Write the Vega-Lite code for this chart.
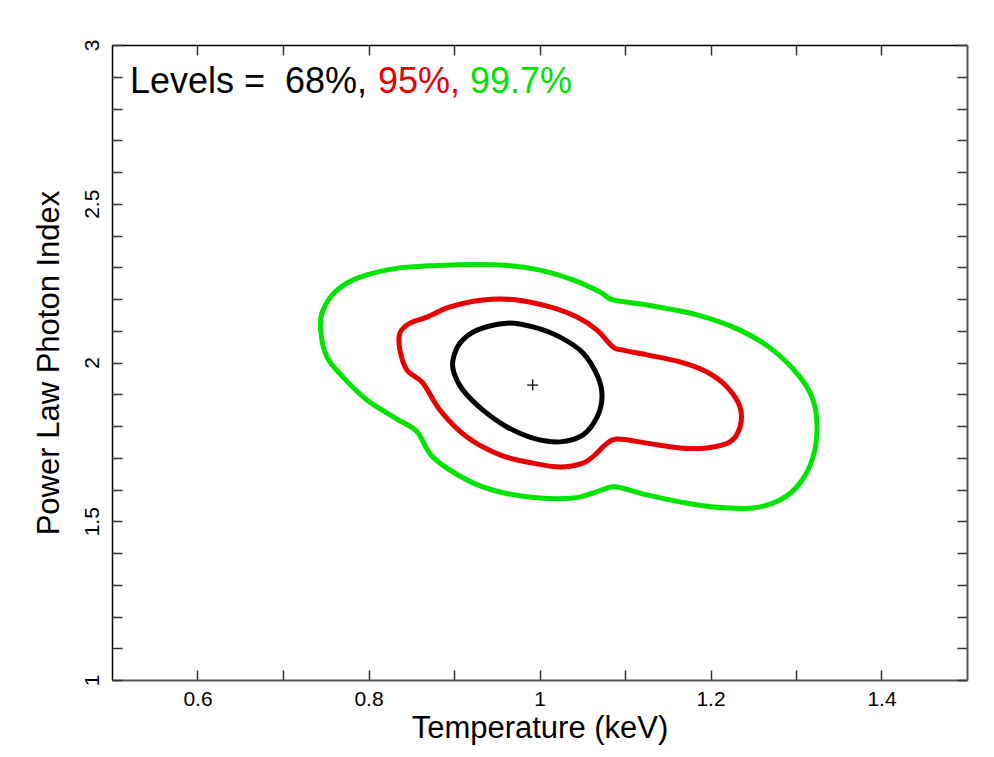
{
  "$schema": "https://vega.github.io/schema/vega-lite/v6.json",
  "width": 855,
  "height": 635,
  "autosize": {"type": "none"},
  "padding": {"left": 112, "top": 45, "right": 27, "bottom": 77},
  "background": "white",
  "config": {
    "view": {"stroke": null},
    "font": "Liberation Sans",
    "axis": {"labelFont": "Liberation Sans", "labelFontSize": 21, "titleFont": "Liberation Sans", "titleFontWeight": "normal", "grid": false}
  },
  "datasets": {
    "contours": [
      {"level": "99.7%", "i": 0, "x": 0.744, "y": 2.102},
      {"level": "99.7%", "i": 1, "x": 0.7468, "y": 2.165},
      {"level": "99.7%", "i": 2, "x": 0.7632, "y": 2.228},
      {"level": "99.7%", "i": 3, "x": 0.7901, "y": 2.269},
      {"level": "99.7%", "i": 4, "x": 0.8368, "y": 2.298},
      {"level": "99.7%", "i": 5, "x": 0.8953, "y": 2.307},
      {"level": "99.7%", "i": 6, "x": 0.9538, "y": 2.307},
      {"level": "99.7%", "i": 7, "x": 1.0006, "y": 2.291},
      {"level": "99.7%", "i": 8, "x": 1.0392, "y": 2.26},
      {"level": "99.7%", "i": 9, "x": 1.0708, "y": 2.222},
      {"level": "99.7%", "i": 10, "x": 1.086, "y": 2.197},
      {"level": "99.7%", "i": 11, "x": 1.1257, "y": 2.181},
      {"level": "99.7%", "i": 12, "x": 1.1842, "y": 2.15},
      {"level": "99.7%", "i": 13, "x": 1.2345, "y": 2.102},
      {"level": "99.7%", "i": 14, "x": 1.2731, "y": 2.039},
      {"level": "99.7%", "i": 15, "x": 1.3047, "y": 1.954},
      {"level": "99.7%", "i": 16, "x": 1.3199, "y": 1.882},
      {"level": "99.7%", "i": 17, "x": 1.3246, "y": 1.797},
      {"level": "99.7%", "i": 18, "x": 1.3199, "y": 1.702},
      {"level": "99.7%", "i": 19, "x": 1.3047, "y": 1.62},
      {"level": "99.7%", "i": 20, "x": 1.2813, "y": 1.567},
      {"level": "99.7%", "i": 21, "x": 1.2497, "y": 1.542},
      {"level": "99.7%", "i": 22, "x": 1.2029, "y": 1.545},
      {"level": "99.7%", "i": 23, "x": 1.1643, "y": 1.561},
      {"level": "99.7%", "i": 24, "x": 1.1257, "y": 1.583},
      {"level": "99.7%", "i": 25, "x": 1.0906, "y": 1.608},
      {"level": "99.7%", "i": 26, "x": 1.0766, "y": 1.602},
      {"level": "99.7%", "i": 27, "x": 1.0626, "y": 1.589},
      {"level": "99.7%", "i": 28, "x": 1.0392, "y": 1.573},
      {"level": "99.7%", "i": 29, "x": 1.0006, "y": 1.573},
      {"level": "99.7%", "i": 30, "x": 0.9538, "y": 1.592},
      {"level": "99.7%", "i": 31, "x": 0.9152, "y": 1.63},
      {"level": "99.7%", "i": 32, "x": 0.8754, "y": 1.702},
      {"level": "99.7%", "i": 33, "x": 0.8567, "y": 1.782},
      {"level": "99.7%", "i": 34, "x": 0.8333, "y": 1.822},
      {"level": "99.7%", "i": 35, "x": 0.7982, "y": 1.882},
      {"level": "99.7%", "i": 36, "x": 0.7702, "y": 1.954},
      {"level": "99.7%", "i": 37, "x": 0.7515, "y": 2.017},
      {"level": "95%", "i": 0, "x": 0.8368, "y": 2.093},
      {"level": "95%", "i": 1, "x": 0.8485, "y": 2.124},
      {"level": "95%", "i": 2, "x": 0.8684, "y": 2.143},
      {"level": "95%", "i": 3, "x": 0.8953, "y": 2.175},
      {"level": "95%", "i": 4, "x": 0.9339, "y": 2.197},
      {"level": "95%", "i": 5, "x": 0.9737, "y": 2.197},
      {"level": "95%", "i": 6, "x": 1.0123, "y": 2.175},
      {"level": "95%", "i": 7, "x": 1.0439, "y": 2.143},
      {"level": "95%", "i": 8, "x": 1.0673, "y": 2.102},
      {"level": "95%", "i": 9, "x": 1.086, "y": 2.049},
      {"level": "95%", "i": 10, "x": 1.0977, "y": 2.039},
      {"level": "95%", "i": 11, "x": 1.1257, "y": 2.024},
      {"level": "95%", "i": 12, "x": 1.1643, "y": 2.002},
      {"level": "95%", "i": 13, "x": 1.1959, "y": 1.97},
      {"level": "95%", "i": 14, "x": 1.2193, "y": 1.923},
      {"level": "95%", "i": 15, "x": 1.2345, "y": 1.86},
      {"level": "95%", "i": 16, "x": 1.2345, "y": 1.797},
      {"level": "95%", "i": 17, "x": 1.2228, "y": 1.75},
      {"level": "95%", "i": 18, "x": 1.1959, "y": 1.731},
      {"level": "95%", "i": 19, "x": 1.1643, "y": 1.731},
      {"level": "95%", "i": 20, "x": 1.1257, "y": 1.746},
      {"level": "95%", "i": 21, "x": 1.0906, "y": 1.759},
      {"level": "95%", "i": 22, "x": 1.0766, "y": 1.74},
      {"level": "95%", "i": 23, "x": 1.0649, "y": 1.709},
      {"level": "95%", "i": 24, "x": 1.0509, "y": 1.683},
      {"level": "95%", "i": 25, "x": 1.024, "y": 1.671},
      {"level": "95%", "i": 26, "x": 0.9924, "y": 1.683},
      {"level": "95%", "i": 27, "x": 0.9538, "y": 1.709},
      {"level": "95%", "i": 28, "x": 0.9152, "y": 1.765},
      {"level": "95%", "i": 29, "x": 0.8836, "y": 1.85},
      {"level": "95%", "i": 30, "x": 0.8637, "y": 1.935},
      {"level": "95%", "i": 31, "x": 0.845, "y": 1.976},
      {"level": "95%", "i": 32, "x": 0.8368, "y": 2.039},
      {"level": "68%", "i": 0, "x": 0.8988, "y": 2.008},
      {"level": "68%", "i": 1, "x": 0.907, "y": 2.061},
      {"level": "68%", "i": 2, "x": 0.9269, "y": 2.102},
      {"level": "68%", "i": 3, "x": 0.962, "y": 2.124},
      {"level": "68%", "i": 4, "x": 0.9924, "y": 2.112},
      {"level": "68%", "i": 5, "x": 1.024, "y": 2.08},
      {"level": "68%", "i": 6, "x": 1.0509, "y": 2.03},
      {"level": "68%", "i": 7, "x": 1.0684, "y": 1.954},
      {"level": "68%", "i": 8, "x": 1.0731, "y": 1.891},
      {"level": "68%", "i": 9, "x": 1.0673, "y": 1.828},
      {"level": "68%", "i": 10, "x": 1.0509, "y": 1.772},
      {"level": "68%", "i": 11, "x": 1.024, "y": 1.75},
      {"level": "68%", "i": 12, "x": 0.9924, "y": 1.762},
      {"level": "68%", "i": 13, "x": 0.962, "y": 1.797},
      {"level": "68%", "i": 14, "x": 0.9339, "y": 1.85},
      {"level": "68%", "i": 15, "x": 0.9105, "y": 1.913},
      {"level": "68%", "i": 16, "x": 0.9, "y": 1.967}
    ],
    "best": [{"x": 0.992, "y": 1.929}],
    "legend": [
      {"x": 0.521, "y": 2.849, "label": "Levels =\u00a0\u00a068%,", "level": "68%"},
      {"x": 0.811, "y": 2.849, "label": "95%,", "level": "95%"},
      {"x": 0.9187, "y": 2.849, "label": "99.7%", "level": "99.7%"}
    ]
  },
  "resolve": {"axis": {"x": "independent", "y": "independent"}},
  "layer": [
    {
      "data": {"name": "contours"},
      "mark": {"type": "line", "interpolate": "cardinal-closed", "strokeWidth": 5, "strokeJoin": "round", "clip": true},
      "encoding": {
        "x": {"field": "x", "type": "quantitative",
          "scale": {"domain": [0.5, 1.5], "nice": false, "zero": false},
          "axis": {"orient": "bottom", "title": "Temperature (keV)", "titleFontSize": 31, "titleColor": "black", "titlePadding": 4,
            "values": [0.6, 0.7, 0.8, 0.9, 1.0, 1.1, 1.2, 1.3, 1.4],
            "labelExpr": "round(datum.value*10)%2==0 ? format(datum.value,'~g') : ''",
            "labelFontSize": 21, "labelColor": "black", "labelPadding": 18, "labelFlush": false, "labelOverlap": false, "labelBound": false,
            "tickSize": -10, "tickColor": "#333", "tickWidth": 1.5,
            "domainColor": "#555", "domainWidth": 2,
            "encode": {"ticks": {"y2": {"value": {"expr": "round(datum.value*10)%2==0 ? -10 : -5"}}}}}},
        "y": {"field": "y", "type": "quantitative",
          "scale": {"domain": [1, 3], "nice": false, "zero": false},
          "axis": {"orient": "left", "title": "Power Law Photon Index", "titleFontSize": 31, "titleColor": "black", "titlePadding": 16,
            "values": [1, 1.1, 1.2, 1.3, 1.4, 1.5, 1.6, 1.7, 1.8, 1.9, 2, 2.1, 2.2, 2.3, 2.4, 2.5, 2.6, 2.7, 2.8, 2.9, 3],
            "labelExpr": "round(datum.value*10)%5==0 ? format(datum.value,'~g') : ''",
            "labelAngle": -90, "labelAlign": "center", "labelBaseline": "alphabetic",
            "labelFontSize": 21, "labelColor": "black", "labelPadding": 24, "labelFlush": false, "labelOverlap": false, "labelBound": false,
            "tickSize": -10, "tickColor": "#333", "tickWidth": 1.5,
            "domainColor": "black", "domainWidth": 1.5,
            "encode": {"ticks": {"x2": {"value": {"expr": "round(datum.value*10)%5==0 ? 10 : 6"}}}}}},
        "color": {"field": "level", "type": "nominal",
          "scale": {"domain": ["68%", "95%", "99.7%"], "range": ["#000000", "#e80000", "#00e400"]}, "legend": null},
        "detail": {"field": "level"},
        "order": {"field": "i", "type": "quantitative"}
      }
    },
    {
      "data": {"name": "best"},
      "mark": {"type": "point", "shape": "M-1,0L1,0M0,-1L0,1", "size": 121, "filled": false, "stroke": "black", "strokeWidth": 1.3, "opacity": 1},
      "encoding": {
        "x": {"field": "x", "type": "quantitative",
          "axis": {"orient": "top", "title": null, "labels": false,
            "values": [0.6, 0.7, 0.8, 0.9, 1.0, 1.1, 1.2, 1.3, 1.4],
            "tickSize": -10, "tickColor": "#333", "tickWidth": 1.5,
            "domainColor": "black", "domainWidth": 1.5,
            "encode": {"ticks": {"y2": {"value": {"expr": "round(datum.value*10)%2==0 ? 10 : 6"}}}}}},
        "y": {"field": "y", "type": "quantitative",
          "axis": {"orient": "right", "title": null, "labels": false,
            "values": [1, 1.1, 1.2, 1.3, 1.4, 1.5, 1.6, 1.7, 1.8, 1.9, 2, 2.1, 2.2, 2.3, 2.4, 2.5, 2.6, 2.7, 2.8, 2.9, 3],
            "tickSize": -10, "tickColor": "#333", "tickWidth": 1.5,
            "domainColor": "#555", "domainWidth": 2,
            "encode": {"ticks": {"x2": {"value": {"expr": "round(datum.value*10)%5==0 ? -10 : -6"}}}}}}
      }
    },
    {
      "data": {"name": "legend"},
      "mark": {"type": "text", "align": "left", "baseline": "alphabetic", "fontSize": 36, "font": "Liberation Sans"},
      "encoding": {
        "x": {"field": "x", "type": "quantitative", "axis": null},
        "y": {"field": "y", "type": "quantitative", "axis": null},
        "text": {"field": "label"},
        "color": {"field": "level", "type": "nominal",
          "scale": {"domain": ["68%", "95%", "99.7%"], "range": ["#000000", "#e80000", "#00e400"]}, "legend": null}
      }
    }
  ]
}
